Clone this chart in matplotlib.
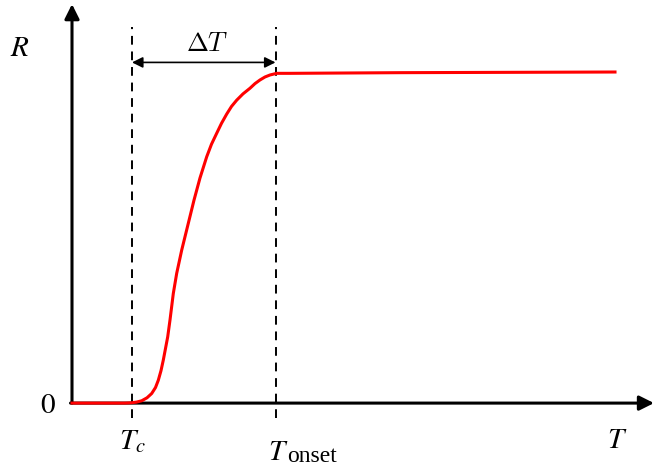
import numpy as np
import matplotlib
matplotlib.use("Agg")
import matplotlib.pyplot as plt

plt.rcParams['mathtext.fontset'] = 'cm'
plt.rcParams['font.family'] = 'DejaVu Serif'

# resistance vs temperature (arbitrary units)
temp = [0, 53, 59.7, 64.5, 69.7, 75, 79.7, 83.5, 86.3, 89, 91.3, 95.7, 98, 101.3, 104.7,
        109.7, 116.3, 122, 128, 134.7, 139.5, 144.7, 149.5, 154.7, 159.5, 164.7, 171, 178,
        183, 188, 193, 198, 204.7, 218, 328, 543]
resist = [0, 0, 0.001, 0.003, 0.007, 0.016, 0.029, 0.047, 0.069, 0.098, 0.130, 0.200,
          0.251, 0.331, 0.392, 0.462, 0.543, 0.613, 0.680, 0.744, 0.782, 0.815, 0.845,
          0.873, 0.896, 0.915, 0.934, 0.951, 0.965, 0.976, 0.985, 0.991, 0.996, 0.996,
          0.998, 1.0]

T_c = 60
T_onset = 203.5

fig = plt.figure(figsize=(6.54, 4.66), dpi=100)
ax = fig.add_axes([0, 0, 1, 1])
ax.set_xlim(-72, 582)
ax.set_ylim(-0.19, 1.2175)
ax.axis('off')

# axes with arrows
ax.annotate('', xy=(0, 1.205), xytext=(0, 0),
            arrowprops=dict(arrowstyle='-|>', lw=2.2, color='black', mutation_scale=22,
                            shrinkA=0, shrinkB=0))
ax.annotate('', xy=(582, 0), xytext=(-1.5, 0),
            arrowprops=dict(arrowstyle='-|>', lw=2.2, color='black', mutation_scale=22,
                            shrinkA=0, shrinkB=0))

# dashed markers
for t in [T_c, T_onset]:
    ax.plot([t, t], [-0.045, 1.135], color='black', lw=1.4, ls=(0, (4.5, 3.5)))

ax.plot(temp, resist, color='red', lw=2.2, solid_joinstyle='round', zorder=3)

# delta T arrow
ax.annotate('', xy=(T_c, 1.029), xytext=(T_onset, 1.029),
            arrowprops=dict(arrowstyle='<|-|>', lw=1.2, color='black', mutation_scale=16,
                            shrinkA=0, shrinkB=0))
ax.text((T_c + T_onset) / 2 + 4, 1.085, r'$\Delta T$', fontsize=19, ha='center', va='center')

lab = dict(fontsize=21, ha='center', va='center', math_fontfamily='stix')
ax.text(-52, 1.072, r'$R$', **lab)
ax.text(-24, -0.005, r'$\mathrm{0}$', **lab)
ax.text(T_c, -0.115, r'$T_c$', **lab)
ax.text(T_onset + 3, -0.172, r'$T$', fontsize=21, ha='center', va='baseline',
        math_fontfamily='stix')
ax.text(T_onset + 12, -0.178, 'onset', fontsize=17, ha='left', va='baseline',
        family='Liberation Serif')
ax.text(545, -0.11, r'$T$', **lab)

fig.savefig('out.png', dpi=100)
